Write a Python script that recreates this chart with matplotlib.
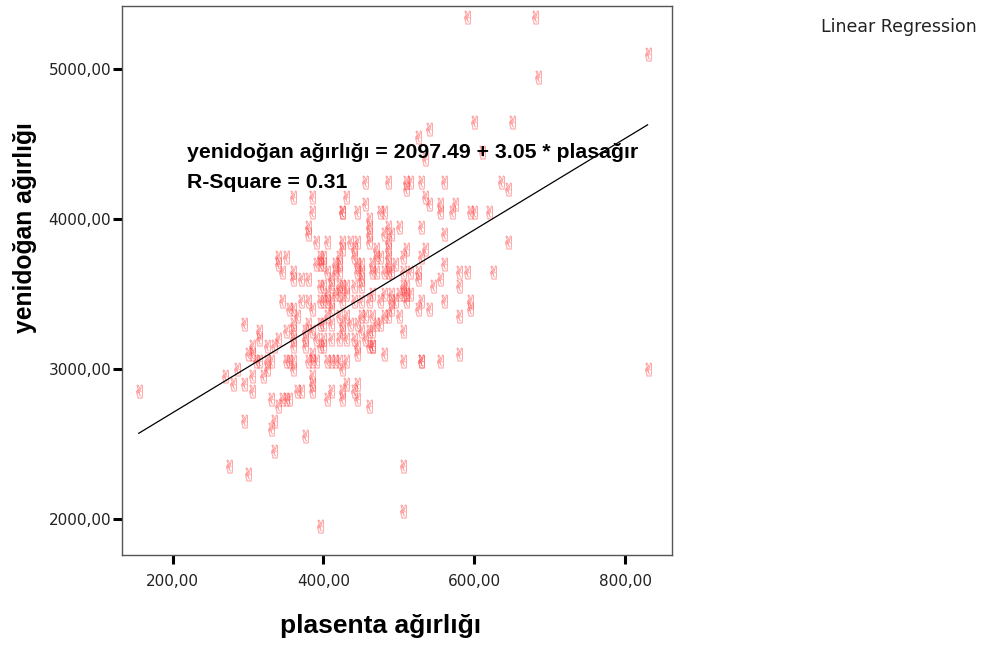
import numpy as np
import matplotlib.pyplot as plt

# placenta weight (g) and newborn weight (g)
plasenta = [
    # sparse / outlying cases
    155, 590, 680, 830, 685, 600, 650, 540, 525, 535, 610, 830, 505, 505, 395,
    460, 275, 300, 295, 330, 335, 335, 375,
    # upper cloud
    360, 385, 430, 455, 485, 510, 515, 530, 560, 635, 645, 510, 535, 540, 555,
    575, 425, 425, 445, 455, 475, 480, 385, 555, 570, 595, 600, 620, 380, 380,
    460, 460, 485, 500, 530, 460, 560, 645, 480, 490,
    # 3700-3850
    390, 405, 425, 425, 445, 460, 485, 485, 510, 535, 435, 440, 470, 340, 350,
    395, 400, 420, 440, 470, 475, 485, 505, 530, 340, 345, 360, 390, 395, 400,
    415, 420, 445, 450, 465, 485, 495, 560, 580, 590, 625, 420, 405, 415, 445,
    450, 465, 470, 480, 485, 490, 505, 515, 525,
    # 3500-3600
    370, 380, 360, 410, 420, 450, 525, 555, 395, 400, 410, 425, 430, 440, 450,
    505, 510, 545, 580, 405, 415, 420, 430, 465, 480, 490, 500, 505, 510, 515,
    # 3350-3450
    345, 355, 360, 365, 370, 380, 385, 395, 400, 405, 410, 425, 440, 450, 460,
    475, 490, 495, 510, 530, 560, 595, 525, 540, 595, 410, 490, 450, 455, 465,
    470, 480, 485, 500, 580, 405, 420, 430, 435,
    # 3100-3300
    295, 315, 315, 305, 325, 335, 340, 350, 360, 360, 360, 375, 375, 360, 375,
    385, 395, 400, 410, 425, 425, 430, 410, 420, 400, 385, 390, 395, 400, 380,
    440, 455, 460, 460, 475, 505, 480, 580, 465, 465, 445, 450, 445, 445, 465,
    # 2950-3050
    300, 305, 310, 315, 325, 325, 330, 350, 355, 360, 360, 380, 385, 390, 405,
    410, 415, 420, 425, 430, 505, 530, 530, 555, 285, 385,
    # 2750-2950
    270, 280, 295, 305, 305, 320, 385, 385, 370, 365, 355, 350, 345, 340, 330,
    405, 410, 425, 425, 440, 445, 430, 445,
]

yenidogan = [
    2850, 5350, 5350, 5100, 4950, 4650, 4650, 4600, 4550, 4400, 4450, 3000, 2050, 2350, 1950,
    2750, 2350, 2300, 2650, 2600, 2650, 2450, 2550,
    4150, 4150, 4150, 4250, 4250, 4250, 4250, 4250, 4250, 4250, 4200, 4200, 4150, 4100, 4100,
    4100, 4050, 4050, 4050, 4100, 4050, 4050, 4050, 4050, 4050, 4050, 4050, 4050, 3950, 3900,
    4000, 3950, 3950, 3950, 3950, 3900, 3900, 3850, 3900, 3900,
    3850, 3850, 3850, 3800, 3850, 3850, 3850, 3800, 3800, 3800, 3850, 3800, 3800, 3750, 3750,
    3750, 3750, 3750, 3750, 3750, 3750, 3750, 3750, 3750, 3700, 3650, 3650, 3700, 3700, 3700,
    3700, 3700, 3700, 3700, 3700, 3700, 3700, 3700, 3650, 3650, 3650, 3650, 3650, 3650, 3650,
    3650, 3650, 3650, 3650, 3650, 3650, 3650, 3650, 3650,
    3600, 3600, 3600, 3600, 3550, 3600, 3600, 3600, 3550, 3550, 3550, 3550, 3550, 3550, 3550,
    3550, 3550, 3550, 3550, 3500, 3500, 3500, 3500, 3500, 3500, 3500, 3500, 3500, 3500, 3500,
    3450, 3400, 3400, 3350, 3450, 3450, 3400, 3450, 3450, 3450, 3450, 3450, 3450, 3450, 3450,
    3450, 3450, 3450, 3450, 3450, 3450, 3450, 3400, 3400, 3400, 3400, 3400, 3350, 3350, 3350,
    3300, 3350, 3350, 3350, 3350, 3350, 3350, 3350, 3300,
    3300, 3250, 3200, 3150, 3150, 3150, 3200, 3250, 3250, 3200, 3300, 3250, 3200, 3150, 3150,
    3100, 3300, 3300, 3300, 3250, 3300, 3200, 3200, 3200, 3200, 3250, 3200, 3150, 3150, 3300,
    3200, 3200, 3250, 3150, 3300, 3250, 3100, 3100, 3250, 3150, 3300, 3250, 3150, 3100, 3150,
    3100, 3100, 3050, 3050, 3050, 3000, 3050, 3050, 3050, 3000, 3050, 3050, 3050, 3050, 3050,
    3050, 3050, 3050, 3000, 3050, 3050, 3050, 3050, 3050, 3000, 2950,
    2950, 2900, 2900, 2950, 2850, 2950, 2900, 2850, 2850, 2850, 2800, 2800, 2800, 2750, 2800,
    2800, 2850, 2850, 2800, 2850, 2800, 2900, 2900,
]

# regression line as reported on the chart
intercept = 2097.49
slope = 3.05
r_square = 0.31

x_ticks = [200, 400, 600, 800]
y_ticks = [2000, 3000, 4000, 5000]

fig = plt.figure(figsize=(9.82, 6.45), dpi=100)
ax = fig.add_axes([0.1239, 0.1395, 0.5607, 0.8517])

x = np.array(plasenta, dtype=float)
y = np.array(yenidogan, dtype=float)

ax.scatter(x, y, marker="$\u270c$", s=95, color="#ff3030", alpha=0.5,
           edgecolors="#ff3030", linewidths=0.15)

xl = np.array([x.min(), x.max()])
ax.plot(xl, intercept + slope * xl, color="black", lw=0.9)

ax.set_xlim(132.4, 862.7)
ax.set_ylim(1758, 5424)
ax.set_xticks(x_ticks)
ax.set_xticklabels([f"{v},00" for v in x_ticks])
ax.set_yticks(y_ticks)
ax.set_yticklabels([f"{v},00" for v in y_ticks])

for sp in ax.spines.values():
    sp.set_color("#555555")
    sp.set_linewidth(1.0)
ax.tick_params(direction="out", length=6.5, width=2.2, color="black",
               labelsize=11, labelcolor="#222222")
ax.tick_params(axis="x", pad=7)
ax.tick_params(axis="y", pad=1)

fig.text(0.388, 0.0295, "plasenta ağırlığı", ha="center", va="center",
         fontsize=19, fontweight="bold", family="Liberation Sans")
fig.text(0.0255, 0.6465, "yenidoğan ağırlığı", ha="center", va="center",
         rotation=90, fontsize=17.7, fontweight="bold", family="Liberation Sans")

fig.text(0.1904, 0.7628,
         f"yenidoğan ağırlığı = {intercept:.2f} + {slope:.2f} * plasağır",
         ha="left", va="center", fontsize=15.3, fontweight="bold",
         family="Liberation Sans")
fig.text(0.1904, 0.7178, f"R-Square = {r_square:.2f}", ha="left", va="center",
         fontsize=15.3, fontweight="bold", family="Liberation Sans")

fig.text(0.995, 0.958, "Linear Regression", ha="right", va="center",
         fontsize=12.5, color="#222222")

fig.savefig("out.png", dpi=100)
